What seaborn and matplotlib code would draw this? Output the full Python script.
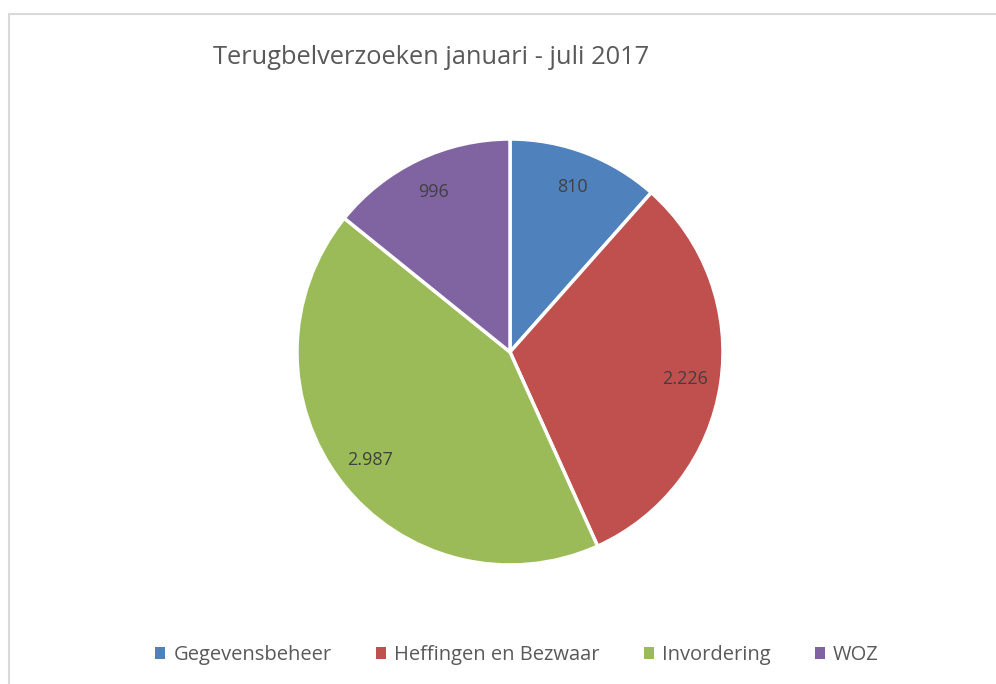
import numpy as np
import pandas as pd
import matplotlib.pyplot as plt
import seaborn as sns
from matplotlib.patches import Patch
from matplotlib.lines import Line2D

# Datos del gráfico
categorias = ['Gegevensbeheer', 'Heffingen en Bezwaar', 'Invordering', 'WOZ']
valores = [810, 2226, 2987, 996]
colores = ['#4F81BD', '#C0504D', '#9BBB59', '#8064A2']
titulo = 'Terugbelverzoeken januari - juli 2017'

df = pd.DataFrame({'categoria': categorias, 'valor': valores})

sns.set_theme(style='white')
plt.rcParams['font.family'] = ['Open Sans', 'DejaVu Sans']

W, H = 996, 684
fig = plt.figure(figsize=(W / 100, H / 100), dpi=100)

# Centro y radio de la torta en píxeles
cx, cy, r = 510, 352, 213
ax = fig.add_axes([(cx - r) / W, (H - cy - r) / H, 2 * r / W, 2 * r / H])

palette = sns.color_palette(colores)
wedges, _ = ax.pie(df['valor'], colors=palette, startangle=90, counterclock=False,
                   wedgeprops=dict(edgecolor='white', linewidth=2.5))
ax.set_xlim(-1, 1)
ax.set_ylim(-1, 1)
ax.set_aspect('equal')
ax.axis('off')

# Etiquetas de valores (separador de miles holandés)
for w, v in zip(wedges, df['valor']):
    ang = np.deg2rad((w.theta1 + w.theta2) / 2)
    txt = f'{v:,}'.replace(',', '.')
    ax.text(0.83 * np.cos(ang), 0.83 * np.sin(ang), txt, ha='center', va='center',
            fontsize=13, color='#404040')

# Título
fig.text(431 / W, 1 - 58 / H, titulo, ha='center', va='center', fontsize=18.3, color='#595959')

# Leyenda
handles = [Patch(facecolor=c, edgecolor='none') for c in colores]
fig.legend(handles, categorias, loc='center', bbox_to_anchor=(517 / W, 1 - 655 / H), ncol=4,
           frameon=False, fontsize=14.5, handlelength=0.5, handleheight=0.5, handletextpad=0.4,
           columnspacing=2.2, labelcolor='#595959')

# Borde del área del gráfico
fig.add_artist(Line2D([9 / W, 9 / W], [0, 1 - 14 / H], color='#D9D9D9', lw=1.5))
fig.add_artist(Line2D([9 / W, 1], [1 - 14 / H, 1 - 14 / H], color='#D9D9D9', lw=1.5))

fig.savefig('out.png', dpi=100)
